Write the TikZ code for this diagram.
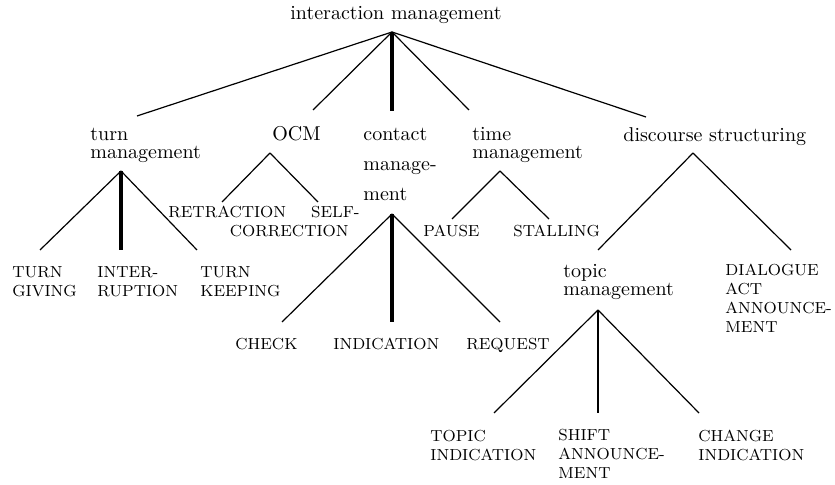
\documentclass[tikz,border=0pt]{standalone}
\begin{document}
\begin{tikzpicture}[x=0.5pt,y=-0.5pt,
  lbl/.style={anchor=base west,inner sep=0pt,align=left,font=\fontsize{10pt}{9pt}\selectfont},
  caps/.style={anchor=base west,inner sep=0pt,align=left,font=\fontsize{8pt}{9.5pt}\selectfont},
  branch/.style={line width=0.6pt},
  stem/.style={line width=1.7pt}]
\useasboundingbox (0,0) rectangle (835,485);
% labels (placed at the baseline of their last line)
\node[lbl] (root) at (290,20) {interaction management};
\node[lbl] (turn) at (90,159) {turn\\management};
\node[lbl] (ocm) at (272,141) {OCM};
\node[lbl,font=\fontsize{10pt}{15pt}\selectfont] (contact) at (363,201) {contact\\manage-\\ment};
\node[lbl] (time) at (472,159) {time\\management};
\node[lbl] (disc) at (623,142) {discourse structuring};
\node[lbl] (topic) at (563,296) {topic\\management};
\node[caps] (giving) at (12,297) {TURN\\GIVING};
\node[caps] (interrupt) at (97,297) {INTER-\\RUPTION};
\node[caps] (keeping) at (200,297) {TURN\\KEEPING};
\node[caps] (retract) at (168,218) {RETRACTION};
\node[caps,anchor=base east,align=right] (selfcorr) at (360,237) {SELF-\\CORRECTION\hspace*{5.5pt}};
\node[caps] (check) at (235,350) {CHECK};
\node[caps] (indic) at (333,350) {INDICATION};
\node[caps] (request) at (466,350) {REQUEST};
\node[caps] (pause) at (423,237) {PAUSE};
\node[caps] (stall) at (513,237) {STALLING};
\node[caps] (dialogue) at (725,333) {DIALOGUE\\ACT\\ANNOUNCE-\\MENT};
\node[caps] (topicind) at (430,461) {TOPIC\\INDICATION};
\node[caps] (shift) at (558,479) {SHIFT\\ANNOUNCE-\\MENT};
\node[caps] (change) at (698,461) {CHANGE\\INDICATION};
% branching points
\coordinate (root-tip) at (392,32);
\coordinate (turn-tip) at (121,171);
\coordinate (ocm-tip) at (270,153);
\coordinate (contact-tip) at (392,214);
\coordinate (time-tip) at (500,171);
\coordinate (disc-tip) at (693,153);
\coordinate (topic-tip) at (598,310);
% interaction management
\draw[branch] (root-tip) -- (137,116) coordinate (root-a);
\draw[branch] (root-tip) -- (313,110) coordinate (root-b);
\draw[stem]   (root-tip) -- (392,111) coordinate (root-c);
\draw[branch] (root-tip) -- (469,110) coordinate (root-d);
\draw[branch] (root-tip) -- (646,117) coordinate (root-e);
% turn management
\draw[branch] (turn-tip) -- (40,250) coordinate (turn-a);
\draw[stem]   (turn-tip) -- (121,250) coordinate (turn-b);
\draw[branch] (turn-tip) -- (197,250) coordinate (turn-c);
% OCM
\draw[branch] (ocm-tip) -- (222,202) coordinate (ocm-a);
\draw[branch] (ocm-tip) -- (318,202) coordinate (ocm-b);
% contact management
\draw[branch] (contact-tip) -- (282,322) coordinate (contact-a);
\draw[stem]   (contact-tip) -- (392,322) coordinate (contact-b);
\draw[branch] (contact-tip) -- (500,322) coordinate (contact-c);
% time management
\draw[branch] (time-tip) -- (452,219) coordinate (time-a);
\draw[branch] (time-tip) -- (549,219) coordinate (time-b);
% discourse structuring
\draw[branch] (disc-tip) -- (598,250) coordinate (disc-a);
\draw[branch] (disc-tip) -- (791,250) coordinate (disc-b);
% topic management
\draw[branch] (topic-tip) -- (494,413) coordinate (topic-a);
\draw[stem,line width=1.3pt] (topic-tip) -- (598,413) coordinate (topic-b);
\draw[branch] (topic-tip) -- (699,413) coordinate (topic-c);
\end{tikzpicture}
\end{document}
